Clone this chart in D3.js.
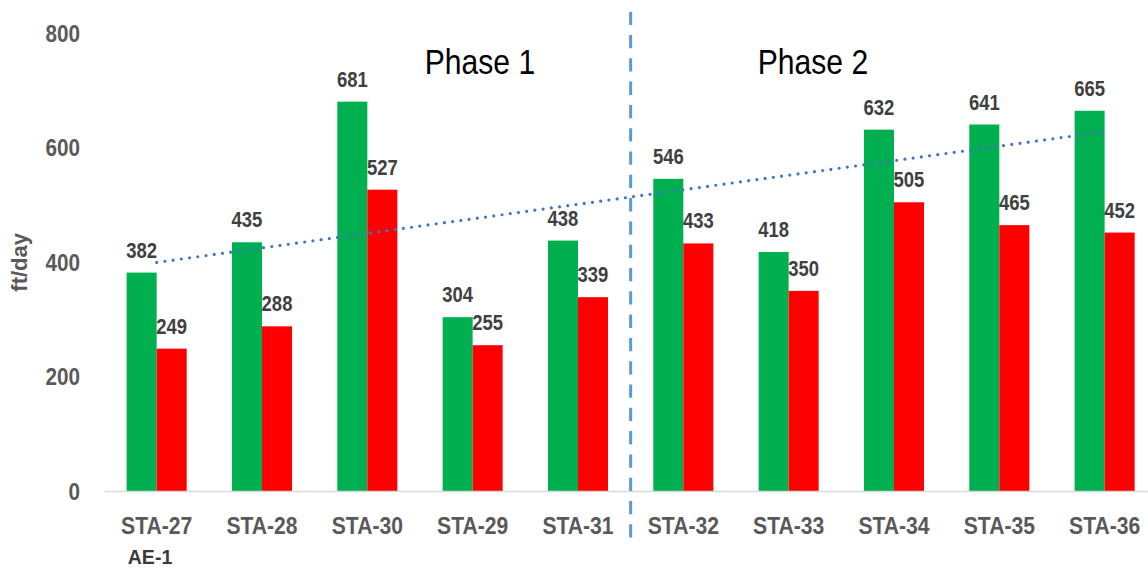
<!DOCTYPE html>
<html>
<head>
<meta charset="utf-8">
<script src="https://cdn.jsdelivr.net/npm/d3@7"></script>
<style>
  html, body { margin: 0; padding: 0; background: #ffffff; }
  svg { display: block; font-family: "Liberation Sans", Arial, sans-serif; }
</style>
</head>
<body>
<svg id="chart" width="1148" height="569"></svg>
<script>
// Flow rates per station (ft/day)
const stations = ["STA-27", "STA-28", "STA-30", "STA-29", "STA-31",
                  "STA-32", "STA-33", "STA-34", "STA-35", "STA-36"];
const greenValues = [382, 435, 681, 304, 438, 546, 418, 632, 641, 665];
const redValues   = [249, 288, 527, 255, 339, 433, 350, 505, 465, 452];
const yTicks = [0, 200, 400, 600, 800];
const phaseLabels = ["Phase 1", "Phase 2"];
const phaseSplit = 5; // first station index of Phase 2

const svg = d3.select("#chart");

const x = d3.scaleBand()
  .domain(stations)
  .range([104, 1157.3])
  .paddingInner(0.43)
  .paddingOuter(0.215);

const xSeries = d3.scaleBand()
  .domain(["green", "red"])
  .range([0, x.bandwidth()]);

const y = d3.scaleLinear().domain([0, 800]).range([491, 33.6]);

const colors = { green: "#00b050", red: "#ff0000" };

const rows = stations.map((s, i) => ({ station: s, green: greenValues[i], red: redValues[i] }));

// Bars
const groups = svg.append("g").selectAll("g")
  .data(rows).join("g")
  .attr("transform", d => `translate(${x(d.station)},0)`);

groups.selectAll("rect")
  .data(d => ["green", "red"].map(k => ({ key: k, value: d[k] })))
  .join("rect")
  .attr("x", d => xSeries(d.key))
  .attr("y", d => y(d.value))
  .attr("width", xSeries.bandwidth())
  .attr("height", d => y(0) - y(d.value))
  .attr("fill", d => colors[d.key]);

// Value labels above bars
groups.selectAll("text")
  .data(d => ["green", "red"].map(k => ({ key: k, value: d[k] })))
  .join("text")
  .attr("transform", d => `translate(${xSeries(d.key) + xSeries.bandwidth() / 2},${y(d.value) - 15}) scale(0.84,1)`)
  .attr("text-anchor", "middle")
  .attr("font-size", 22)
  .attr("font-weight", "bold")
  .attr("fill", "#404040")
  .text(d => d.value);

// Baseline axis with station labels
const xAxis = svg.append("g")
  .attr("transform", `translate(0,${y(0)})`)
  .call(d3.axisBottom(x).tickSize(0).tickPadding(0));
xAxis.select(".domain").attr("stroke", "#d9d9d9").attr("stroke-width", 1.6);
xAxis.selectAll("text")
  .attr("y", 43)
  .attr("dy", null)
  .attr("transform", "scale(0.88,1)")
  .attr("font-size", 24)
  .attr("font-weight", "bold")
  .attr("font-family", "Liberation Sans, Arial, sans-serif")
  .attr("fill", "#595959");

svg.append("text")
  .attr("transform", `translate(150,564) scale(0.93,1)`)
  .attr("text-anchor", "middle")
  .attr("font-size", 21)
  .attr("font-weight", "bold")
  .attr("fill", "#3a3a3a")
  .text("AE-1");

// Value axis labels
const yAxis = svg.append("g")
  .attr("transform", "translate(104,0)")
  .call(d3.axisLeft(y).tickValues(yTicks).tickSize(0).tickPadding(0).tickFormat(d3.format("d")));
yAxis.select(".domain").remove();
yAxis.selectAll(".tick text")
  .attr("x", null)
  .attr("dy", null)
  .attr("transform", "translate(-24,8) scale(0.9,1)")
  .attr("font-size", 23)
  .attr("font-weight", "bold")
  .attr("font-family", "Liberation Sans, Arial, sans-serif")
  .attr("fill", "#595959");

svg.append("text")
  .attr("transform", `translate(27,${y(400)}) rotate(-90)`)
  .attr("text-anchor", "middle")
  .attr("font-size", 22)
  .attr("font-weight", "bold")
  .attr("fill", "#595959")
  .text("ft/day");

// Phase divider
const splitX = x(stations[phaseSplit]) - x.step() * x.paddingInner() / 2;
svg.append("line")
  .attr("x1", splitX).attr("x2", splitX)
  .attr("y1", 11.7).attr("y2", 538.5)
  .attr("stroke", "#5b9bd5")
  .attr("stroke-width", 3)
  .attr("stroke-dasharray", "13.3 10");

// Phase titles
const phaseCenters = [480, 813];
svg.selectAll(".phase")
  .data(phaseLabels).join("text")
  .attr("class", "phase")
  .attr("transform", (d, i) => `translate(${phaseCenters[i]},74) scale(0.86,1)`)
  .attr("text-anchor", "middle")
  .attr("font-size", 35)
  .attr("fill", "#000000")
  .text(d => d);

// Linear trend of the green series
const n = greenValues.length;
const idx = d3.range(1, n + 1);
const mx = d3.mean(idx), my = d3.mean(greenValues);
const slope = d3.sum(idx, (k, i) => (k - mx) * (greenValues[i] - my)) /
              d3.sum(idx, k => (k - mx) * (k - mx));
const intercept = my - slope * mx;
const trend = [1, n].map(k => ({ k, v: intercept + slope * k }));
const center = k => x(stations[k - 1]) + x.bandwidth() / 2;

svg.append("path")
  .datum(trend)
  .attr("d", d3.line().x(d => center(d.k)).y(d => y(d.v)))
  .attr("fill", "none")
  .attr("stroke", "#4472c4")
  .attr("stroke-width", 3.2)
  .attr("stroke-linecap", "round")
  .attr("stroke-dasharray", "0 8.3");
</script>
</body>
</html>
